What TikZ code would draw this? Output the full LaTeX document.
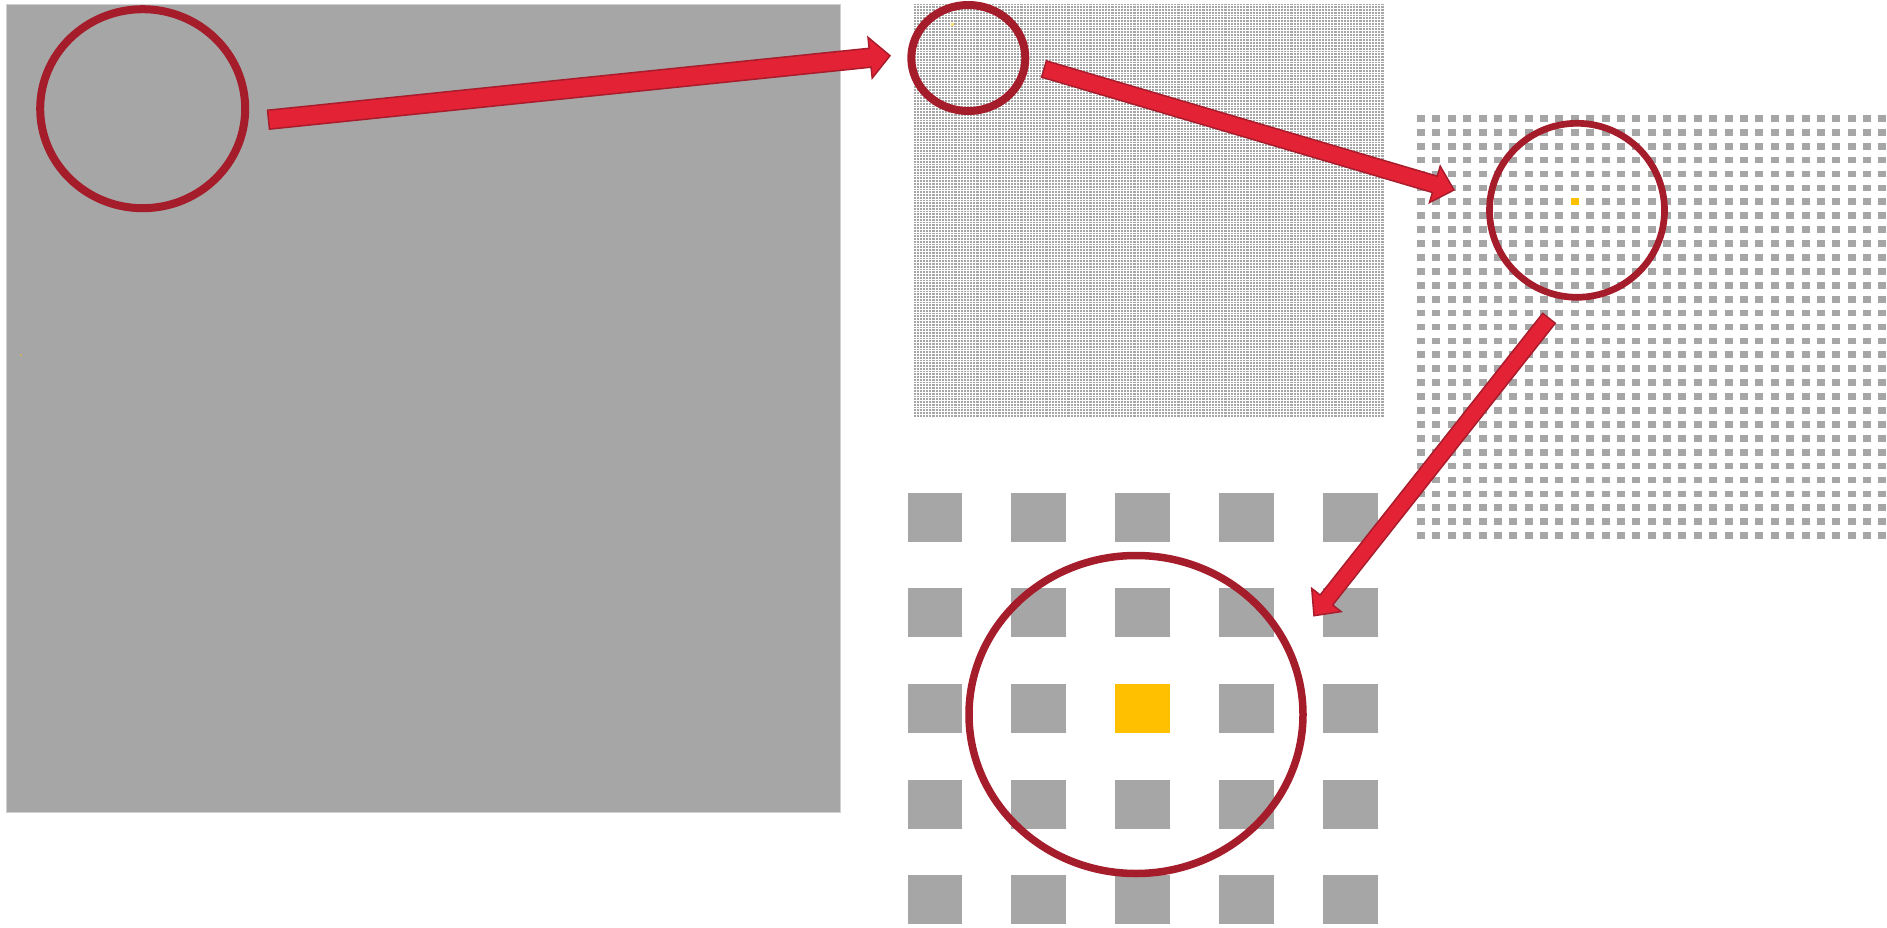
\documentclass[tikz,border=0pt]{standalone}
\usetikzlibrary{calc,shapes.geometric}
\definecolor{panelGray}{HTML}{A6A6A6}
\definecolor{panelEdge}{HTML}{D0D0D0}
\definecolor{lensRed}{HTML}{A51C2A}
\definecolor{arrowFill}{HTML}{E32335}
\definecolor{arrowEdge}{HTML}{A81C2C}
\definecolor{hotYellow}{HTML}{FFC000}

% block arrow from #1 to #2, half shaft #3, half head #4
\newcommand{\zoomarrow}[4]{%
  \coordinate (#1n) at ($(#2)!20pt!(#1)$);
  \filldraw[arrow] ($(#1)!#3!90:(#2)$) -- ($(#1n)!#3!90:(#2)$) -- ($(#1n)!#4!90:(#2)$) -- (#2)
    -- ($(#1n)!#4!-90:(#2)$) -- ($(#1n)!#3!-90:(#2)$) -- ($(#1)!#3!-90:(#2)$) -- cycle;}

\begin{document}
\begin{tikzpicture}[x=1pt, y=-1pt,
    lens/.style={
        ellipse, draw=lensRed, line width=8pt,
        inner sep=0pt, outer sep=0pt
    },
    cell/.style={fill=panelGray},
    arrow/.style={fill=arrowFill, draw=arrowEdge, line width=1.5pt, line join=miter}
]
  \useasboundingbox (0,0) rectangle (1887,928);

  % Full view
  \filldraw[fill=panelGray, draw=panelEdge, line width=1pt] (6.5,5) rectangle (840.5,812.5);
  \fill[hotYellow!40!panelGray] (19.5,354) rectangle ++(2,2);

  % Dense view
  \fill[cell] (913,3) rectangle (1384,417);
  \foreach \i in {0,...,150}
    \draw[white, line width=0.8pt] ({913+\i*3.14},3) -- ++(0,414);
  \foreach \j in {0,...,150}
    \draw[white, line width=0.8pt] (913,{3+\j*2.76}) -- ++(471,0);
  \fill[hotYellow!55!white] (950.5,23) rectangle ++(3,3);

  % Medium view
  \foreach \c in {0,...,30}
    \foreach \r in {0,...,30}
      \fill[cell] ({1417+\c*15.38},{115+\r*13.91}) rectangle ++(8,6.7);
  \fill[hotYellow] ({1417+10*15.38},{115+6*13.91}) rectangle ++(8,6.7);

  % Close view
  \foreach \c in {0,...,4}
    \foreach \r in {0,...,4}
      \fill[cell] ({907.5+\c*103.9},{492.7+\r*95.6}) rectangle ++(54.6,49);
  \fill[hotYellow] ({907.5+2*103.9},{492.7+2*95.6}) rectangle ++(54.6,49);

  % Lenses
  \node[lens, minimum width=205pt, minimum height=199pt] (lensA) at (142.7,108.7) {};
  \node[lens, minimum width=114pt, minimum height=106pt] (lensB) at (968.3,58) {};
  \node[lens, line width=6.7pt, minimum width=175pt, minimum height=174pt] (lensC) at (1577,210.3) {};
  \node[lens, line width=7.5pt, minimum width=334pt, minimum height=318pt] (lensD) at (1136,714.5) {};

  % Arrow ends
  \coordinate (t1) at (268.5,119.7);
  \coordinate (h1) at (890,55.7);
  \coordinate (t2) at (1044,69);
  \coordinate (h2) at (1454,190);
  \coordinate (t3) at (1549,318.3);
  \coordinate (h3) at (1314,615.7);

  % Arrows
  \zoomarrow{t1}{h1}{9.5pt}{20.5pt}
  \zoomarrow{t2}{h2}{8.5pt}{19pt}
  \zoomarrow{t3}{h3}{8pt}{18.7pt}

\end{tikzpicture}
\end{document}
